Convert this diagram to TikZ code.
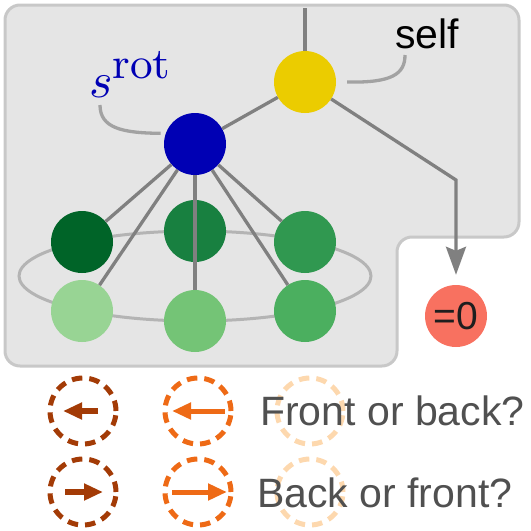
\documentclass[tikz,border=0pt]{standalone}
\usepackage{fontspec}
\setmainfont{Liberation Sans}
\usetikzlibrary{arrows.meta}

\definecolor{boxfill}{RGB}{229,229,229}
\definecolor{boxline}{RGB}{200,200,200}
\definecolor{edgegray}{RGB}{128,128,128}
\definecolor{ringgray}{RGB}{180,180,180}
\definecolor{selfyellow}{RGB}{235,204,0}
\definecolor{rotblue}{RGB}{0,0,180}
\definecolor{zerored}{RGB}{248,113,96}
\definecolor{greenA}{RGB}{0,100,40}
\definecolor{greenB}{RGB}{24,128,64}
\definecolor{greenC}{RGB}{48,152,80}
\definecolor{greenD}{RGB}{152,212,148}
\definecolor{greenE}{RGB}{116,196,118}
\definecolor{greenF}{RGB}{75,175,95}
\definecolor{brownguess}{RGB}{163,59,6}
\definecolor{orangeguess}{RGB}{238,106,22}
\definecolor{peachguess}{RGB}{253,216,174}
\definecolor{legendtext}{RGB}{80,80,80}

\begin{document}
\begin{tikzpicture}[x=1pt,y=-1pt,
    ball/.style={circle,minimum size=62pt,inner sep=0pt},
    edge/.style={draw=edgegray,line width=3.3pt},
    guess/.style={circle,minimum size=66pt,inner sep=0pt,line width=5pt,dash pattern=on 10.5pt off 7pt}]

    \useasboundingbox (0,0) rectangle (531,531);

    \draw[draw=boxline,fill=boxfill,line width=3pt,rounded corners=15pt]
        (5,5) -- (519,5) -- (519,237) -- (397,237) -- (397,366) -- (5,366) -- cycle;

    \draw[draw=ringgray,line width=3pt] (195,276) ellipse [x radius=176pt, y radius=45pt];

    \node[ball,fill=selfyellow] (self) at (305,82) {};
    \node[ball,fill=rotblue] (rot) at (195,144) {};
    \node[ball,fill=zerored] (zero) at (456,316) {\fontsize{39}{39}\selectfont\color[RGB]{30,30,30}=0};

    \foreach \name/\x/\y/\col in {bl/82/242/greenA, bm/195/231/greenB, br/305/242/greenC,
                                  fl/82/311/greenD, fm/195/321/greenE, fr/305/311/greenF} {
        \node[ball,fill=\col] (\name) at (\x,\y) {};
    }
    \foreach \leaf in {bl,br,fl,fm,fr} {
        \draw[edge] (rot) -- (\leaf);
    }

    \coordinate (top) at (305,8);
    \coordinate (kink) at (456,180);
    \draw[edge] (top) -- (self);
    \draw[edge] (self) -- (rot);
    \draw[edge,-{Stealth[length=28pt,width=20pt,inset=4pt]}] (self) -- (kink) -- ([yshift=10pt]zero.north);

    \node[anchor=base west,inner sep=0pt,font=\fontsize{41}{41}\selectfont] (selflabel) at (395,48) {self};
    \node[anchor=base west,inner sep=0pt,text=rotblue,scale=5,font=\fontsize{10}{12}\selectfont] (rotlabel) at (88,97)
        {$s^{\mbox{\fontfamily{lmr}\fontsize{8.8}{9}\selectfont rot}}$};
    \coordinate (selftail) at (405,55);
    \coordinate (rottail) at (100,105);
    \draw[edge,draw=ringgray!90!black] ([xshift=11pt]self.east) .. controls (392,83) and (405,74) .. (selftail);
    \draw[edge,draw=ringgray!90!black] (rottail) .. controls (100,128) and (122,133) .. ([xshift=-5pt]rot.160);

    % guesses
    \node[guess,draw=peachguess] (p1) at (310,411) {};
    \node[guess,draw=peachguess] (p2) at (310,492) {};
    \node[guess,draw=brownguess] (b1) at (83,411) {};
    \node[guess,draw=brownguess] (b2) at (83,492) {};
    \node[guess,draw=orangeguess] (o1) at (198,411) {};
    \node[guess,draw=orangeguess] (o2) at (198,492) {};

    \draw[brownguess,line width=5.5pt,-{Triangle[length=19pt,width=16pt]}] ([xshift=15pt]b1.center) -- ([xshift=-20pt]b1.center);
    \draw[brownguess,line width=5.5pt,-{Triangle[length=19pt,width=16pt]}] ([xshift=-18pt]b2.center) -- ([xshift=20pt]b2.center);
    \draw[orangeguess,line width=5pt,-{Triangle[length=19pt,width=16pt]}] ([xshift=27pt]o1.center) -- ([xshift=-26pt]o1.center);
    \draw[orangeguess,line width=5pt,-{Triangle[length=19pt,width=16pt]}] ([xshift=-26pt]o2.center) -- ([xshift=29pt]o2.center);

    \node[anchor=base west,inner sep=0pt,text=legendtext,font=\fontsize{41}{41}\selectfont] (q1) at (260,425) {Front or back?};
    \node[anchor=base west,inner sep=0pt,text=legendtext,font=\fontsize{41}{41}\selectfont] (q2) at (257,507) {Back or front?};

\end{tikzpicture}
\end{document}
